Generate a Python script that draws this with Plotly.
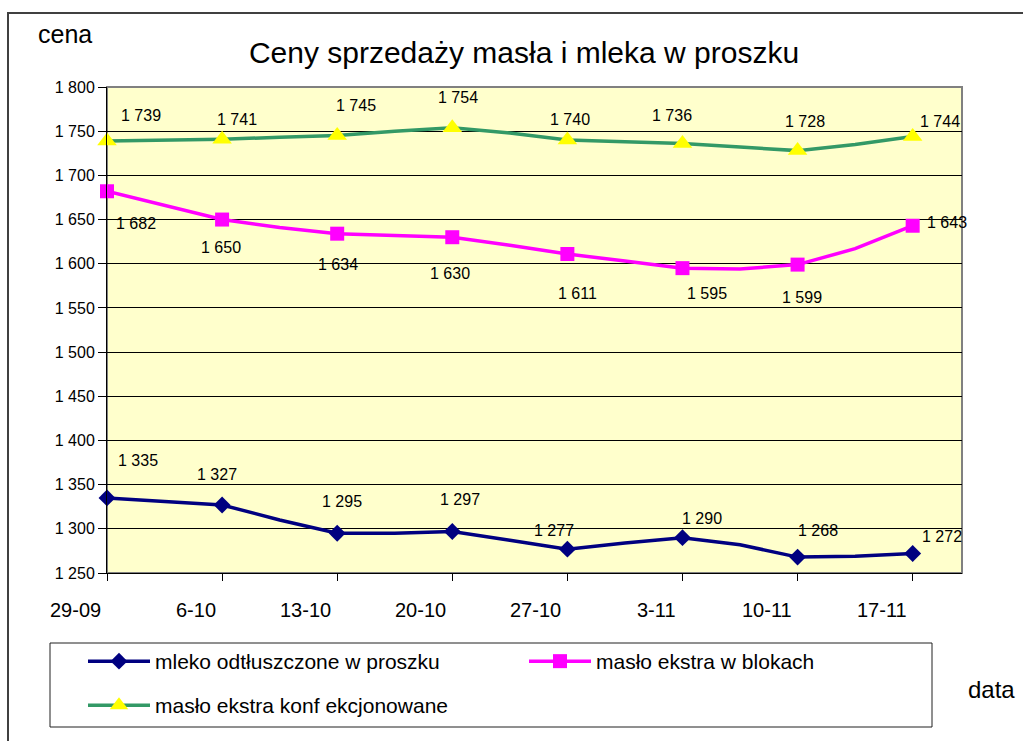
import plotly.graph_objects as go

# ---------------- data ----------------
dates = ["29-09", "6-10", "13-10", "20-10", "27-10", "3-11", "10-11", "17-11"]
mleko = [1335, 1327, 1295, 1297, 1277, 1290, 1268, 1272]
mleko_mid = [1331, 1310, 1295, 1287, 1284, 1282, 1269]
maslo_blok = [1682, 1650, 1634, 1630, 1611, 1595, 1599, 1643]
maslo_blok_mid = [1666, 1641, 1632, 1621, 1603, 1594, 1617]
maslo_konf = [1739, 1741, 1745, 1754, 1740, 1736, 1728, 1744]
maslo_konf_mid = [1740, 1743, 1750, 1748, 1738, 1732, 1735]

names = ["mleko odtłuszczone w proszku", "masło ekstra w blokach", "masło ekstra konf ekcjonowane"]

# ---------------- styles ----------------
FONT = "Arial, Liberation Sans, sans-serif"
colors = ["#000080", "#FF00FF", "#339966"]
marker_colors = ["#000080", "#FF00FF", "#FFFF00"]
symbols = ["diamond", "square", "triangle-up"]
msizes = [13, 14, 17]
# label offsets in px (dx, dy up)
label_shifts = [
    [(31, 37), (-5, 30), (5, 32), (8, 32), (-13, 19), (20, 19), (20, 27), (29, 17)],
    [(29, -32), (-1, -28), (1, -31), (-2, -36), (10, -39), (25, -25), (4, -33), (34, 3)],
    [(34, 25), (15, 20), (19, 30), (6, 30), (3, 21), (-10, 28), (7, 29), (27, 15)],
]

W, H = 1023, 741
L, R, T, B = 107, 962, 87, 573
PW, PH = R - L, B - T


def px(x):
    return (x - L) / PW


def py(y):
    return (B - y) / PH


xi = list(range(len(dates)))
x_full = []
for i in xi:
    x_full.append(i)
    if i < len(dates) - 1:
        x_full.append(i + 0.5)

fig = go.Figure()
series = [(mleko, mleko_mid), (maslo_blok, maslo_blok_mid), (maslo_konf, maslo_konf_mid)]
for k, (vals, mids) in enumerate(series):
    y_full, mcol = [], []
    for i, v in enumerate(vals):
        y_full.append(v)
        mcol.append(marker_colors[k])
        if i < len(mids):
            y_full.append(mids[i])
            mcol.append("rgba(0,0,0,0)")
    fig.add_trace(go.Scatter(
        x=x_full, y=y_full, mode="lines+markers", name=names[k],
        line=dict(color=colors[k], width=3.5),
        marker=dict(symbol=symbols[k], size=msizes[k], color=mcol, line=dict(width=0)),
        legend="legend" if k < 2 else "legend2",
        hoverinfo="skip", cliponaxis=False,
    ))

annotations = []
for k, (vals, _) in enumerate(series):
    for i, v in enumerate(vals):
        dx, dy = label_shifts[k][i]
        annotations.append(dict(
            x=xi[i], y=v, xref="x", yref="y", text=f"{v:,}".replace(",", " "),
            showarrow=False, xanchor="center", yanchor="middle", xshift=dx, yshift=dy,
            font=dict(family=FONT, size=16, color="black"),
        ))

# x tick labels (right-aligned just left of each tick)
for i, d in enumerate(dates):
    annotations.append(dict(
        x=xi[i], y=0, xref="x", yref="paper", text=d, showarrow=False,
        xanchor="right", yanchor="middle", xshift=-4, yshift=-37,
        font=dict(family=FONT, size=20, color="black"),
    ))

annotations.append(dict(x=px(65), y=py(34), xref="paper", yref="paper", text="cena",
                        showarrow=False, xanchor="center", yanchor="middle",
                        font=dict(family=FONT, size=25, color="black")))
annotations.append(dict(x=px(991), y=py(689), xref="paper", yref="paper", text="data",
                        showarrow=False, xanchor="center", yanchor="middle",
                        font=dict(family=FONT, size=24, color="black")))

shapes = [
    # outer chart border (clipped at right/bottom)
    dict(type="rect", xref="paper", yref="paper", x0=px(8), x1=px(1040), y0=py(13), y1=py(760),
         line=dict(color="#404040", width=2), layer="below"),
    # plot area border
    dict(type="rect", xref="paper", yref="paper", x0=0, x1=1, y0=0, y1=1,
         line=dict(color="#808080", width=2), layer="below"),
    # legend box
    dict(type="rect", xref="paper", yref="paper", x0=px(50), x1=px(932), y0=py(643), y1=py(727),
         line=dict(color="#202020", width=1), fillcolor="white", layer="below"),
]

fig.update_layout(
    width=W, height=H,
    margin=dict(l=L, r=W - R, t=T, b=H - B, autoexpand=False),
    paper_bgcolor="white", plot_bgcolor="#FFFFCC",
    separators=", ",
    font=dict(family=FONT, color="black"),
    title=dict(text="Ceny sprzedaży masła i mleka w proszku", x=524 / W, xanchor="center",
               y=1 - 52 / H, yanchor="middle", font=dict(family=FONT, size=30, color="black")),
    xaxis=dict(range=[0, 52 / 7], tickvals=xi, showticklabels=False, ticks="outside",
               ticklen=7, tickcolor="black", showgrid=False, showline=True, linecolor="black",
               linewidth=1, zeroline=False, fixedrange=True),
    yaxis=dict(range=[1250, 1800], dtick=50, tick0=1250, tickformat=",d", ticks="outside",
               ticklen=8, tickcolor="black", showgrid=True, gridcolor="black", gridwidth=1,
               showline=True, linecolor="black", linewidth=1, zeroline=False,
               tickfont=dict(family=FONT, size=16, color="black"), fixedrange=True),
    legend=dict(orientation="h", x=px(83), xanchor="left", y=py(641), yanchor="top",
                bgcolor="rgba(0,0,0,0)", borderwidth=0, itemwidth=62, entrywidth=364,
                font=dict(family=FONT, size=21, color="black"), tracegroupgap=0),
    legend2=dict(orientation="h", x=px(83), xanchor="left", y=py(685), yanchor="top",
                 bgcolor="rgba(0,0,0,0)", borderwidth=0, itemwidth=62,
                 font=dict(family=FONT, size=21, color="black")),
    annotations=annotations,
    shapes=shapes,
    showlegend=True,
)

fig.write_html("out.html", config={"displayModeBar": False},
               post_script="document.body.style.margin='0';document.body.style.padding='0';")
